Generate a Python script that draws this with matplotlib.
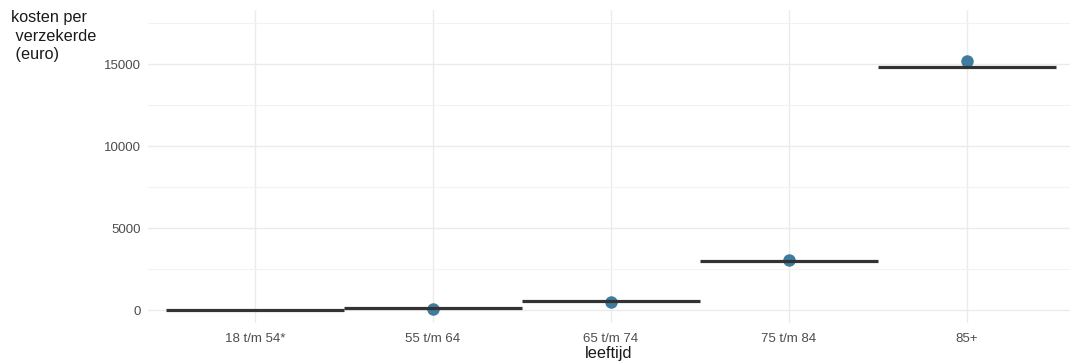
import numpy as np
import matplotlib
matplotlib.use("Agg")
import matplotlib.pyplot as plt
from matplotlib.ticker import MultipleLocator

plt.rcParams['font.family'] = ['Liberation Sans', 'DejaVu Sans']

# age groups and costs per insured person (euro)
categories = ["18 t/m 54*", "55 t/m 64", "65 t/m 74", "75 t/m 84", "85+"]
norm_costs = [30, 100, 550, 3000, 14840]          # horizontal bars per group
observed_costs = [np.nan, 50, 490, 3050, 15200]   # dots per group
y_ticks = [0, 5000, 10000, 15000]

fig = plt.figure(figsize=(10.70, 3.63), dpi=100)
ax = fig.add_axes([148 / 1070, 1 - 323 / 363, 1 - 148 / 1070, (323 - 10) / 363])

x = np.arange(len(categories))

ax.plot(x, observed_costs, 'o', color='#3E7CA0', markersize=9,
        markeredgewidth=0, zorder=3, linestyle='none')
ax.hlines(norm_costs, x - 0.5, x + 0.5, colors='#333333', linewidth=2.3,
          zorder=4, capstyle='butt')

ax.set_xlim(-0.6, 4.58)
ax.set_ylim(-790, 18300)
ax.set_xticks(x)
ax.set_xticklabels(categories)
ax.set_yticks(y_ticks)
ax.set_yticklabels([str(v) for v in y_ticks])
ax.yaxis.set_minor_locator(MultipleLocator(2500))

ax.grid(True, which='major', color='#EBEBEB', linewidth=1.0, zorder=0)
ax.grid(True, which='minor', axis='y', color='#F2F2F2', linewidth=0.8, zorder=0)
ax.set_axisbelow(True)
for s in ax.spines.values():
    s.set_visible(False)
ax.tick_params(which='both', length=0)
ax.tick_params(axis='x', labelsize=9.5, labelcolor='#4D4D4D', pad=7)
ax.tick_params(axis='y', labelsize=9.5, labelcolor='#4D4D4D', pad=5)

ax.set_xlabel("leeftijd", fontsize=11.7, color='#1A1A1A', labelpad=1)
fig.text(11 / 1070, 1 - 10 / 363, "kosten per\n verzekerde\n (euro)",
         fontsize=11.7, color='#1A1A1A', ha='left', va='top', linespacing=1.3)

fig.savefig("out.png", dpi=100)
